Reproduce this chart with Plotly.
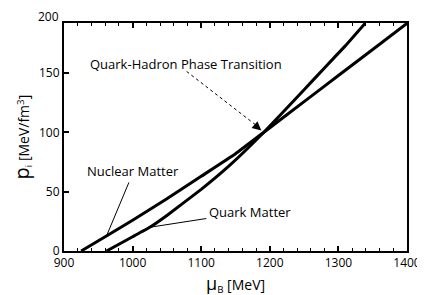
import numpy as np
import plotly.graph_objects as go

# ---- data ----
nuclear_mu = [925, 960, 1000, 1050, 1100, 1150, 1191, 1250, 1300, 1350, 1400]
nuclear_p = [0, 12, 26, 44, 63, 82, 100, 126, 148, 170, 192]

quark_mu = [962, 1000, 1025, 1050, 1100, 1141, 1191, 1250, 1279, 1310, 1339]
quark_p = [0, 12, 20, 30, 52, 72, 100, 136, 154, 173, 192]

x_ticks = [900, 1000, 1100, 1200, 1300, 1400]
y_ticks = [0, 50, 100, 150]
y_top_label = "200"

# ---- layout geometry (pixels) ----
W, H = 425, 295
L, R, T, B = 56, 14, 15, 52
PW, PH = W - L - R, H - T - B


def px(x):
    return (x - L) / PW


def py(y):
    return (H - B - y) / PH


FONT = "Open Sans"

fig = go.Figure()
line_style = dict(color="black", width=3)
fig.add_trace(go.Scatter(x=nuclear_mu, y=nuclear_p, mode="lines",
                         line=dict(**line_style, shape="spline", smoothing=0.3),
                         showlegend=False, hoverinfo="skip"))
fig.add_trace(go.Scatter(x=quark_mu, y=quark_p, mode="lines",
                         line=dict(**line_style, shape="spline", smoothing=0.3),
                         showlegend=False, hoverinfo="skip"))

# crossing point of the two curves
grid = np.linspace(1150, 1250, 2001)
diff = np.interp(grid, nuclear_mu, nuclear_p) - np.interp(grid, quark_mu, quark_p)
idx = np.argmin(np.abs(diff))
cross_mu = float(grid[idx])
cross_p = float(np.interp(cross_mu, nuclear_mu, nuclear_p))

C = dict(xanchor="center", yanchor="middle")
annotations = []
# labels
annotations.append(dict(text="Quark-Hadron Phase Transition", x=px(182), y=py(56),
                        xref="paper", yref="paper", showarrow=False, **C,
                        font=dict(size=13, color="black", family=FONT)))
annotations.append(dict(text="Nuclear Matter", x=px(127), y=py(163),
                        xref="paper", yref="paper", showarrow=False, **C,
                        font=dict(size=13, color="black", family=FONT)))
annotations.append(dict(text="Quark Matter", x=px(248), y=py(204),
                        xref="paper", yref="paper", showarrow=False, **C,
                        font=dict(size=13, color="black", family=FONT)))

# pointer lines
nm_tip = 962
annotations.append(dict(text="", x=nm_tip, y=float(np.interp(nm_tip, nuclear_mu, nuclear_p)),
                        xref="x", yref="y", ax=23, ay=-55, showarrow=True,
                        arrowhead=0, arrowwidth=1, arrowcolor="black"))
qm_tip = 1025
annotations.append(dict(text="", x=qm_tip, y=float(np.interp(qm_tip, quark_mu, quark_p)),
                        xref="x", yref="y", ax=58, ay=-9, showarrow=True,
                        arrowhead=0, arrowwidth=1, arrowcolor="black"))
# arrow head at the transition point
annotations.append(dict(text="", x=cross_mu, y=cross_p, xref="x", yref="y",
                        ax=-7, ay=-6, showarrow=True, arrowhead=2, arrowsize=1.2,
                        arrowwidth=1.5, arrowcolor="black", standoff=3))

# axis titles
annotations.append(dict(text='<span style="font-size:18px">μ</span><sub>B</sub> [MeV]',
                        x=px(233), y=py(275), xref="paper", yref="paper", **C,
                        showarrow=False, font=dict(size=14, color="black", family=FONT)))
annotations.append(dict(text='<span style="font-size:20px">p</span><sub>i</sub> [MeV/fm<sup>3</sup>]',
                        x=px(12), y=py(129), xref="paper", yref="paper", textangle=-90, **C,
                        showarrow=False, font=dict(size=14, color="black", family=FONT)))
# top y label
annotations.append(dict(text=y_top_label, x=px(53), y=py(8), xref="paper", yref="paper",
                        xanchor="right", yanchor="middle", showarrow=False,
                        font=dict(size=12, color="black", family=FONT)))

shapes = [dict(type="line", xref="x", yref="y", xsizemode="pixel", ysizemode="pixel",
               xanchor=cross_mu, yanchor=cross_p, x0=-77, y0=61, x1=-6, y1=6,
               line=dict(color="black", width=1, dash="dot"))]

fig.update_layout(
    width=W, height=H, margin=dict(l=L, r=R, t=T, b=B),
    paper_bgcolor="white", plot_bgcolor="white",
    font=dict(family=FONT, size=12, color="black"),
    annotations=annotations, shapes=shapes,
    xaxis=dict(range=[900, 1400], tickvals=x_ticks, ticks="inside", ticklen=5,
               tickwidth=1.5, tickcolor="black", showline=True, linecolor="black",
               linewidth=2, mirror="ticks", showgrid=False, zeroline=False,
               minor=dict(dtick=20, ticks="inside", ticklen=3, tickwidth=1.2,
                          tickcolor="black", showgrid=False),
               tickfont=dict(size=12, family=FONT)),
    yaxis=dict(range=[0, 192.3], tickvals=y_ticks, ticks="inside", ticklen=5,
               tickwidth=1.5, tickcolor="black", showline=True, linecolor="black",
               linewidth=2, mirror=True, showgrid=False, zeroline=False,
               tickfont=dict(size=12, family=FONT)),
)

fig.write_html("out.html")
